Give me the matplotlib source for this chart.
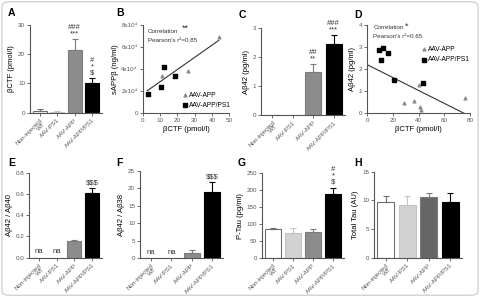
import matplotlib
matplotlib.use("Agg")
import matplotlib.pyplot as plt
from matplotlib.patches import FancyBboxPatch

plt.rcParams['font.family'] = ['Liberation Sans', 'DejaVu Sans']
plt.rcParams['axes.linewidth'] = 0.8
plt.rcParams['axes.edgecolor'] = '#555555'
plt.rcParams['xtick.color'] = '#555555'
plt.rcParams['ytick.color'] = '#555555'

# groups
groups = ["Non-injected\nWT", "AAV-PS1", "AAV-APP", "AAV-APP/PS1"]

# bar panels
bctf_mean = [0.7, 0.3, 21.3, 10.2]
bctf_err = [0.5, 0.3, 4.0, 1.6]
ab42_mean = [0, 0, 1.5, 2.45]
ab42_err = [0, 0, 0.25, 0.33]
r40_mean = [0, 0, 0.16, 0.61]
r40_err = [0, 0, 0.006, 0.045]
r38_mean = [0, 0, 1.5, 19.0]
r38_err = [0, 0, 0.8, 2.7]
ptau_mean = [85, 75, 77, 188]
ptau_err = [3, 15, 10, 20]
ttau_mean = [9.7, 9.2, 10.6, 9.8]
ttau_err = [1.0, 1.6, 0.7, 1.5]

# scatter panel B: sAPPb vs bCTF
b_app_x = [11, 26, 43.9]
b_app_y = [3.4e4, 3.85e4, 6.9e4]
b_dbl_x = [3.2, 10.4, 12.5, 18.5]
b_dbl_y = [1.7e4, 2.4e4, 4.2e4, 3.36e4]
b_fit_x = [2.7, 43.9]
b_fit_y = [2.03e4, 6.6e4]

# scatter panel D: Ab42 vs bCTF
d_app_x = [28.8, 36.6, 40, 41, 41.8, 76.2]
d_app_y = [0.45, 0.57, 1.3, 0.27, 0.15, 0.71]
d_dbl_x = [9, 10.3, 12.4, 16.3, 20.7, 43.6]
d_dbl_y = [2.85, 2.4, 2.95, 2.75, 1.5, 1.37]
d_fit_x = [0, 75.4]
d_fit_y = [2.2, 0]

face = ['white', '#d2d2d2', '#8c8c8c', 'black']
edge = ['#6e6e6e', '#c4c4c4', '#7c7c7c', 'black']

TICK = 4.5
LAB = 5.5
NOTE = 5.5


def style(ax):
    for s in ['top', 'right']:
        ax.spines[s].set_visible(False)
    ax.tick_params(length=2, width=0.6, labelsize=TICK, pad=1.5)


def bar_panel(ax, mean, err, ylim, yticks, ylabel, notes=None, na=False, faces=face, fmt=None):
    x = list(range(len(groups)))
    ax.bar(x, mean, width=0.8, color=faces, edgecolor=edge, linewidth=0.8)
    for i in x:
        if err[i] > 0:
            ax.errorbar(i, mean[i], yerr=[[0], [err[i]]], fmt='none',
                        ecolor=edge[i], elinewidth=0.8,
                        capsize=2, capthick=0.8)
    ax.set_xlim(-0.55, 3.55)
    ax.set_ylim(*ylim)
    ax.set_yticks(yticks)
    if fmt:
        ax.set_yticklabels([fmt(v) for v in yticks])
    ax.set_xticks(x)
    ax.set_xticklabels(groups, rotation=45, ha='right', rotation_mode='anchor',
                       fontsize=TICK, linespacing=0.9)
    ax.set_ylabel(ylabel, fontsize=LAB, labelpad=2)
    style(ax)
    if notes:
        for i, txt in notes.items():
            ax.text(i, mean[i] + err[i] + (ylim[1] - ylim[0]) * 0.02, txt,
                    ha='center', va='bottom', fontsize=NOTE, linespacing=0.85,
                    color='#333333', clip_on=False)
    if na:
        for i in [0, 1]:
            ax.text(i, (ylim[1] - ylim[0]) * 0.03, 'na', ha='center', va='bottom',
                    fontsize=5.5, color='#333333')


fig = plt.figure(figsize=(4.8, 2.97), dpi=100)

W, H = 480, 297


def axes_px(l, r, b, t):
    return fig.add_axes([l / W, 1 - b / H, (r - l) / W, (b - t) / H])


axA = axes_px(30, 102, 112.7, 25)
axB = axes_px(142.7, 229.3, 113, 25)
axC = axes_px(261, 345, 115, 28.3)
axD = axes_px(367.3, 470, 113.3, 25)
axE = axes_px(29.3, 101.7, 257.7, 172.7)
axF = axes_px(140, 223.3, 258.3, 170.7)
axG = axes_px(262, 344, 258.3, 173.3)
axH = axes_px(374, 462, 257.7, 171.7)

bar_panel(axA, bctf_mean, bctf_err, (0, 30), [0, 10, 20, 30], 'βCTF (pmol/l)',
          notes={2: '###\n***', 3: '#\n*\n$'})
bar_panel(axC, ab42_mean, ab42_err, (0, 3), [0, 1, 2, 3], 'Aβ42 (pg/ml)',
          notes={2: '##\n**', 3: '###\n***'})
bar_panel(axE, r40_mean, r40_err, (0, 0.8), [0, 0.2, 0.4, 0.6, 0.8], 'Aβ42 / Aβ40',
          notes={3: '$$$'}, na=True, fmt=lambda v: f'{v:.1f}')
bar_panel(axF, r38_mean, r38_err, (0, 25), [0, 5, 10, 15, 20, 25], 'Aβ42 / Aβ38',
          notes={3: '$$$'}, na=True)
bar_panel(axG, ptau_mean, ptau_err, (0, 250), [0, 50, 100, 150, 200, 250], 'P-Tau (pg/ml)',
          notes={3: '#\n*\n$'})
bar_panel(axH, ttau_mean, ttau_err, (0, 15), [0, 5, 10, 15], 'Total Tau (AU)',
          faces=['white', '#d2d2d2', '#666666', 'black'])

# B
axB.scatter(b_app_x, b_app_y, marker='^', s=4, color='#8c8c8c', label='AAV-APP', zorder=3)
axB.scatter(b_dbl_x, b_dbl_y, marker='s', s=9, color='black', label='AAV-APP/PS1', zorder=3)
axB.plot(b_fit_x, b_fit_y, color='#333333', lw=0.8)
axB.set_xlim(0, 50)
axB.set_ylim(0, 8e4)
axB.set_xticks([0, 10, 20, 30, 40, 50])
axB.set_yticks([0, 2e4, 4e4, 6e4, 8e4])
axB.set_yticklabels(['0', '2x10⁴', '4x10⁴', '6x10⁴', '8x10⁴'])
axB.set_xlabel('βCTF (pmol/l)', fontsize=LAB, labelpad=2)
axB.set_ylabel('sAPPβ (ng/ml)', fontsize=LAB, labelpad=2)
style(axB)
axB.text(0.06, 0.93, 'Correlation', transform=axB.transAxes, fontsize=4.5, va='center', color='#333333')
axB.text(0.45, 0.96, '**', transform=axB.transAxes, fontsize=6.5, va='center', color='#333333')
axB.text(0.06, 0.82, "Pearson's r²=0.85", transform=axB.transAxes, fontsize=4.5, va='center', color='#333333')
axB.legend(loc='lower right', bbox_to_anchor=(1.06, 0.0), fontsize=4.8, frameon=False,
           handletextpad=0.2, borderaxespad=0.2, labelspacing=0.5, handlelength=0.8)

# D
axD.scatter(d_app_x, d_app_y, marker='^', s=4, color='#8c8c8c', label='AAV-APP', zorder=3)
axD.scatter(d_dbl_x, d_dbl_y, marker='s', s=9, color='black', label='AAV-APP/PS1', zorder=3)
axD.plot(d_fit_x, d_fit_y, color='#333333', lw=0.8)
axD.set_xlim(0, 80)
axD.set_ylim(0, 4)
axD.set_xticks([0, 20, 40, 60, 80])
axD.set_yticks([0, 1, 2, 3, 4])
axD.set_xlabel('βCTF (pmol/l)', fontsize=LAB, labelpad=2)
axD.set_ylabel('Aβ42 (pg/ml)', fontsize=LAB, labelpad=2)
style(axD)
axD.text(0.06, 0.97, 'Correlation', transform=axD.transAxes, fontsize=4.5, va='center', color='#333333')
axD.text(0.37, 0.99, '*', transform=axD.transAxes, fontsize=6.5, va='center', color='#333333')
axD.text(0.06, 0.87, "Pearson's r²=0.65", transform=axD.transAxes, fontsize=4.5, va='center', color='#333333')
axD.legend(loc='upper right', bbox_to_anchor=(1.06, 0.83), fontsize=4.8, frameon=False,
           handletextpad=0.2, labelspacing=0.5, handlelength=0.8)

# panel letters
letters = {'A': (8, 13), 'B': (116, 13), 'C': (239, 15), 'D': (354, 15),
           'E': (8, 163), 'F': (116, 163), 'G': (238, 163), 'H': (354, 163)}
for k, (px, py) in letters.items():
    fig.text(px / W, 1 - py / H, k, fontsize=7.5, fontweight='bold', ha='left', va='center')

# rounded border
fig.patches.append(FancyBboxPatch((0.004, 0.006), 0.992, 0.988,
                                  boxstyle='round,pad=0,rounding_size=0.015',
                                  transform=fig.transFigure, fill=False,
                                  edgecolor='#c8c8c8', linewidth=0.8))

fig.savefig('out.png', dpi=100)
